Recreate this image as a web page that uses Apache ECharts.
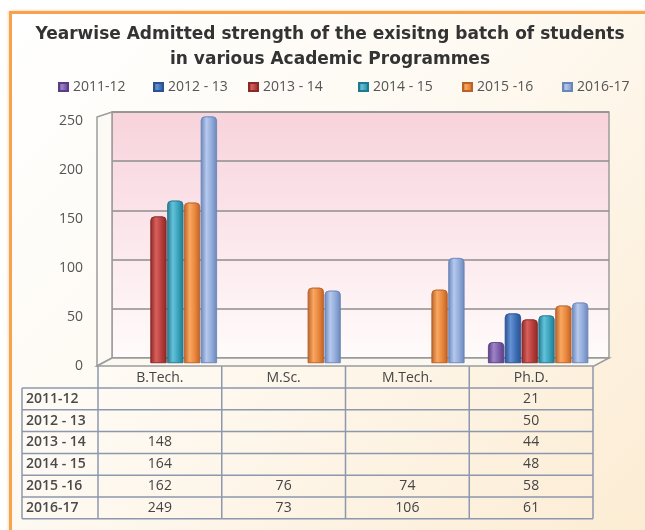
<!DOCTYPE html>
<html>
<head>
<meta charset="utf-8">
<script src="https://cdn.jsdelivr.net/npm/echarts@6/dist/echarts.min.js"></script>
<style>
    html, body { margin: 0; padding: 0; background: #fff; overflow: hidden; }
    #frame {
        position: absolute; left: 9px; top: 11px; width: 660px; height: 540px;
        border-top: 3px solid #f6a24f; border-left: 3px solid #f6a24f;
        background: linear-gradient(135deg, #ffffff 0%, #fefaf3 40%, #fcebd1 100%);
        box-shadow: 0 0 3px #f9c48a;
    }
    #chart { position: absolute; left: 0; top: 0; width: 645px; height: 530px; }
</style>
</head>
<body>
<div id="frame"></div>
<div id="chart"></div>
<script>
    // data
    var programmes = ['B.Tech.', 'M.Sc.', 'M.Tech.', 'Ph.D.'];
    var years = ['2011-12', '2012 - 13', '2013 - 14', '2014 - 15', '2015 -16', '2016-17'];
    var y2011_12 = [null, null, null, 21];
    var y2012_13 = [null, null, null, 50];
    var y2013_14 = [148, null, null, 44];
    var y2014_15 = [164, null, null, 48];
    var y2015_16 = [162, 76, 74, 58];
    var y2016_17 = [249, 73, 106, 61];
    var yTicks = [0, 50, 100, 150, 200, 250];

    var seriesData = [y2011_12, y2012_13, y2013_14, y2014_15, y2015_16, y2016_17];
    // dark / light / base per year
    var palette = [
        ['#583e85', '#a084c8', '#7a5ba6'],
        ['#2a5190', '#6592d5', '#3b6db3'],
        ['#8a2a28', '#d8605c', '#b53c3a'],
        ['#24788e', '#62c3da', '#38a0ba'],
        ['#b9622a', '#f9a862', '#e8843a'],
        ['#6a86b8', '#b6c9ee', '#8fa9d8']
    ];
    // left edge of each legend item
    var legendX = [58, 153, 248, 358, 462, 562];

    var font = '"Open Sans", Lato, sans-serif';
    var titleFont = '"DejaVu Sans", "Open Sans", sans-serif';
    var chart = echarts.init(document.getElementById('chart'));

    // front edge of the plot / table
    var fx0 = 98, fx1 = 593, floorY = 366;
    var headBottom = 388, rowH = 21.8, labelX = 22;
    var colW = (fx1 - fx0) / programmes.length;
    var lineCol = '#8d97ad';

    var graphics = [];
    // side wall + floor (3d look)
    graphics.push({
        type: 'polygon', z: 1,
        shape: {points: [[97, 117], [112, 112], [112, 358], [97, 366]]},
        style: {fill: '#fdfaf6', stroke: '#9c9c9c', lineWidth: 1.5}
    });
    graphics.push({
        type: 'polygon', z: 1,
        shape: {points: [[97, 366], [112, 358], [609, 358], [594, 366]]},
        style: {fill: '#fbf7f1', stroke: '#9c9c9c', lineWidth: 1.5}
    });
    // table lines
    var tableBottom = headBottom + rowH * years.length;
    for (var c = 0; c <= programmes.length; c++) {
        var x = fx0 + c * colW;
        graphics.push({type: 'line', z: 3, shape: {x1: x, y1: floorY, x2: x, y2: tableBottom},
            style: {stroke: lineCol, lineWidth: 1.5}});
    }
    graphics.push({type: 'line', z: 3, shape: {x1: labelX, y1: headBottom, x2: labelX, y2: tableBottom},
        style: {stroke: lineCol, lineWidth: 1.5}});
    for (var r = 0; r <= years.length; r++) {
        var y = headBottom + r * rowH;
        graphics.push({type: 'line', z: 3, shape: {x1: labelX, y1: y, x2: fx1, y2: y},
            style: {stroke: lineCol, lineWidth: 1.5}});
    }
    // table texts
    programmes.forEach(function (p, i) {
        graphics.push({type: 'text', z: 4, x: fx0 + (i + 0.5) * colW, y: (floorY + headBottom) / 2 + 1,
            style: {text: p, font: '14px ' + font, fill: '#444', align: 'center', verticalAlign: 'middle'}});
    });
    years.forEach(function (yr, r) {
        var cy = headBottom + (r + 0.5) * rowH;
        graphics.push({type: 'text', z: 4, x: labelX + 4, y: cy,
            style: {text: yr, font: '600 14px ' + font, fill: '#4a4a4a', align: 'left', verticalAlign: 'middle'}});
        seriesData[r].forEach(function (v, i) {
            if (v === null) return;
            graphics.push({type: 'text', z: 4, x: fx0 + (i + 0.5) * colW, y: cy,
                style: {text: String(v), font: '14px ' + font, fill: '#444', align: 'center', verticalAlign: 'middle'}});
        });
    });

    var series = years.map(function (yr, i) {
        var p = palette[i];
        return {
            name: yr,
            type: 'bar',
            xAxisIndex: 1,
            yAxisIndex: 1,
            barWidth: 16,
            barGap: '5%',
            data: seriesData[i],
            itemStyle: {
                color: {
                    type: 'linear', x: 0, y: 0, x2: 1, y2: 0,
                    colorStops: [
                        {offset: 0, color: p[0]},
                        {offset: 0.35, color: p[1]},
                        {offset: 0.7, color: p[2]},
                        {offset: 1, color: p[0]}
                    ]
                },
                borderRadius: [4, 4, 0, 0],
                borderColor: p[0],
                borderWidth: 0.6
            }
        };
    });

    var legends = years.map(function (yr, i) {
        return {
            data: [yr],
            left: legendX[i],
            top: 80,
            itemWidth: 9,
            itemHeight: 8,
            icon: 'rect',
            padding: 0,
            textStyle: {fontSize: 14, color: '#555', fontFamily: font}
        };
    });

    var option = {
        backgroundColor: 'transparent',
        textStyle: {fontFamily: font},
        title: {
            text: 'Yearwise Admitted strength of the exisitng batch of students\nin various Academic Programmes',
            left: 325,
            top: 17,
            textAlign: 'center',
            textStyle: {fontSize: 17, fontWeight: 'bold', color: '#333', lineHeight: 25, fontFamily: titleFont}
        },
        legend: legends,
        graphic: graphics,
        grid: [
            // back wall
            {left: 112, right: 36, top: 112, bottom: 172, show: true,
                backgroundColor: {
                    type: 'linear', x: 0, y: 0, x2: 0, y2: 1,
                    colorStops: [{offset: 0, color: '#f8d3dc'}, {offset: 1, color: '#fffbfb'}]
                },
                borderColor: '#9c9c9c', borderWidth: 1.5},
            // bars
            {left: 105, right: 45, top: 115.5, bottom: 167},
            // front tick labels
            {left: 98, right: 47, top: 121, bottom: 163.5}
        ],
        xAxis: [
            {type: 'category', gridIndex: 0, data: programmes, show: false},
            {type: 'category', gridIndex: 1, data: programmes, show: false},
            {type: 'category', gridIndex: 2, data: programmes, show: false}
        ],
        yAxis: [
            {type: 'value', gridIndex: 0, min: yTicks[0], max: yTicks[yTicks.length - 1], interval: 50,
                axisLabel: {show: false}, axisLine: {show: false}, axisTick: {show: false},
                splitLine: {lineStyle: {color: '#8e8e8e', width: 1.5}}},
            {type: 'value', gridIndex: 1, min: yTicks[0], max: yTicks[yTicks.length - 1], interval: 50,
                show: false},
            {type: 'value', gridIndex: 2, min: yTicks[0], max: yTicks[yTicks.length - 1], interval: 50,
                axisLine: {show: false}, axisTick: {show: false}, splitLine: {show: false},
                axisLabel: {margin: 15, fontSize: 14, color: '#555', fontFamily: font}}
        ],
        series: series
    };
    chart.setOption(option);
</script>
</body>
</html>
